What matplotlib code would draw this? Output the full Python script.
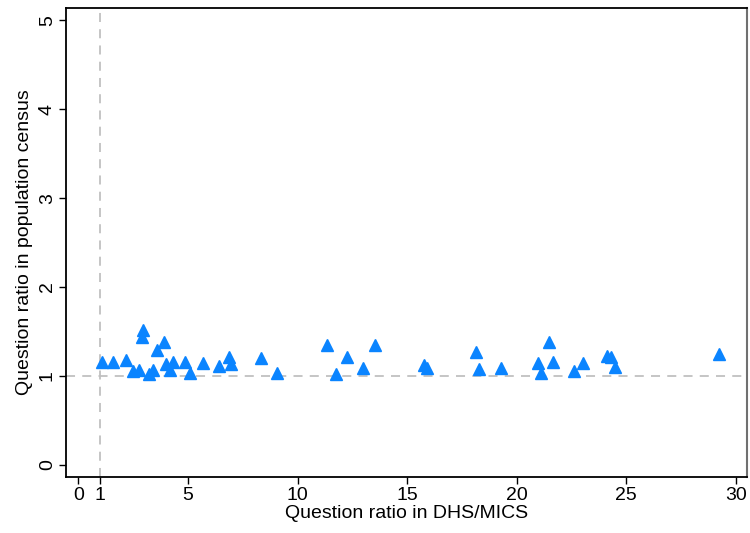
import matplotlib
matplotlib.use("Agg")
import matplotlib.pyplot as plt

plt.rcParams['font.family'] = ['Liberation Sans', 'DejaVu Sans']

# question ratios: DHS/MICS (x) vs population census (y)
dhs_ratio = [1.06, 1.56, 2.19, 2.95, 2.92, 2.49, 2.77, 3.22, 3.40, 3.89, 3.58,
             3.98, 4.19, 4.34, 4.86, 5.10, 5.70, 6.40, 6.88, 6.98, 8.32, 9.08,
             11.33, 11.75, 12.24, 12.97, 13.52, 15.78, 15.89, 18.12, 18.29, 19.30,
             21.47, 20.99, 21.09, 21.67, 22.62, 23.00, 24.13, 24.28, 24.48, 29.24]
census_ratio = [1.15, 1.16, 1.18, 1.51, 1.44, 1.05, 1.06, 1.02, 1.07, 1.38, 1.29,
                1.13, 1.07, 1.16, 1.15, 1.03, 1.14, 1.11, 1.21, 1.13, 1.20, 1.03,
                1.35, 1.02, 1.21, 1.09, 1.35, 1.12, 1.09, 1.27, 1.08, 1.09,
                1.38, 1.14, 1.03, 1.15, 1.05, 1.14, 1.22, 1.21, 1.10, 1.25]

xticks = [0, 1, 5, 10, 15, 20, 25, 30]
yticks = [0, 1, 2, 3, 4, 5]

fig = plt.figure(figsize=(7.5, 5.33), dpi=100)
ax = fig.add_axes([0.0876, 0.105, 0.9080, 0.880])

ax.axhline(1, color='#c0c0c0', lw=1.3, ls=(0, (5, 4)), zorder=1)
ax.axvline(1, color='#c0c0c0', lw=1.3, ls=(0, (5, 4)), zorder=1)
ax.plot(dhs_ratio, census_ratio, ls='none', marker='^', ms=8.5,
        color='#0a84ff', mec='#0a84ff', zorder=3)

ax.set_xlim(-0.575, 30.49)
ax.set_ylim(-0.14, 5.14)
ax.set_xticks(xticks)
ax.set_yticks(yticks)
ax.tick_params(direction='out', length=5, width=1, labelsize=14, pad=2)
for lab in ax.get_yticklabels():
    lab.set_rotation(90)
    lab.set_va('center')

ax.set_xlabel('Question ratio in DHS/MICS', fontsize=14, labelpad=1)
ax.set_ylabel('Question ratio in population census', fontsize=14, labelpad=4)

for side in ['left', 'bottom', 'top']:
    ax.spines[side].set_linewidth(1.3)
    ax.spines[side].set_color('black')
ax.spines['right'].set_color('#707070')
ax.spines['right'].set_linewidth(1.5)

fig.savefig('out.png', dpi=100)
